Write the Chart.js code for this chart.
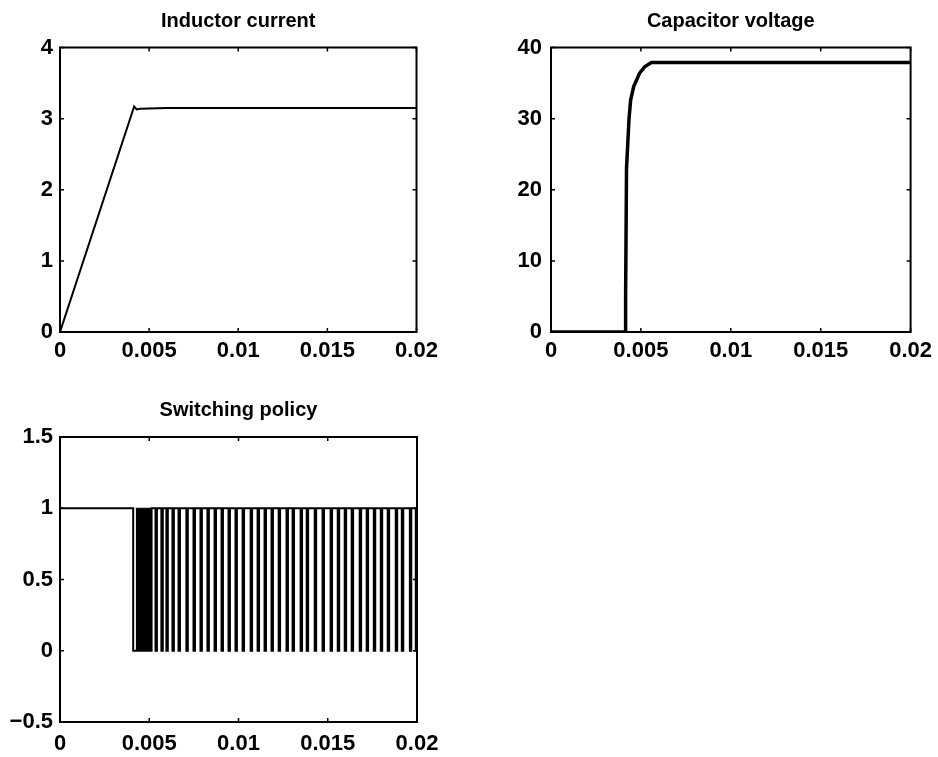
<!DOCTYPE html>
<html>
<head>
<meta charset="utf-8">
<script src="https://cdn.jsdelivr.net/npm/chart.js@4.4.0/dist/chart.umd.min.js"></script>
<style>
body { margin: 0; background: #fff; }
.panel { position: absolute; }
</style>
</head>
<body>
<div class="panel" style="left:0;top:0;width:470px;height:380px"><canvas id="current"></canvas></div>
<div class="panel" style="left:470px;top:0;width:468px;height:380px"><canvas id="voltage"></canvas></div>
<div class="panel" style="left:0;top:360px;width:470px;height:397px"><canvas id="policy"></canvas></div>
<script>
// shared time axis (seconds)
const timeTicks = [0, 0.005, 0.01, 0.015, 0.02];

// inductor current
const currentTime = [0, 0.00416, 0.0043, 0.0045, 0.006, 0.02];
const currentValue = [0, 3.17, 3.13, 3.14, 3.15, 3.15];
const currentTicks = [0, 1, 2, 3, 4];

// capacitor voltage
const voltageTime = [0, 0.00415, 0.00415, 0.0042, 0.00434, 0.00443, 0.0046, 0.00493, 0.00521, 0.00558, 0.007, 0.02];
const voltageValue = [0, 0, 5, 23, 30, 32.6, 34.5, 36.4, 37.3, 37.9, 37.9, 37.9];
const voltageTicks = [0, 10, 20, 30, 40];

// switching policy
const policyTicks = [-0.5, 0, 0.5, 1, 1.5];
const switchOffTime = 0.0041;
const chatterStart = 0.00424;
const chatterEnd = 0.00513;
const dipTimes = [
    0.00539, 0.00572, 0.00600, 0.00634, 0.00668, 0.00712, 0.00752, 0.00791,
    0.00830, 0.00870, 0.00909, 0.00948, 0.00987, 0.01027, 0.01072, 0.01111,
    0.01150, 0.01189, 0.01229, 0.01273, 0.01307, 0.01352, 0.01386, 0.01431,
    0.01475, 0.01520, 0.01560, 0.01599, 0.01638, 0.01683, 0.01722, 0.01762,
    0.01801, 0.01840, 0.01885, 0.01919, 0.01964, 0.01997
];
const dipWidth = 0.00008;

const FONT = '"Liberation Sans", Arial, Helvetica, sans-serif';

const framePlugin = {
    id: 'frame',
    afterDatasetsDraw(chart) {
        const ctx = chart.ctx;
        const a = chart.chartArea;
        const xs = chart.scales.x;
        const ys = chart.scales.y;
        ctx.save();
        ctx.strokeStyle = '#000';
        ctx.lineWidth = 2;
        ctx.strokeRect(a.left, a.top, a.right - a.left, a.bottom - a.top);
        ctx.lineWidth = 1.5;
        ctx.beginPath();
        xs.ticks.forEach(function (t) {
            const px = xs.getPixelForValue(t.value);
            ctx.moveTo(px, a.bottom); ctx.lineTo(px, a.bottom - 4);
            ctx.moveTo(px, a.top); ctx.lineTo(px, a.top + 4);
        });
        ys.ticks.forEach(function (t) {
            const py = ys.getPixelForValue(t.value);
            ctx.moveTo(a.left, py); ctx.lineTo(a.left + 4, py);
            ctx.moveTo(a.right, py); ctx.lineTo(a.right - 4, py);
        });
        ctx.stroke();
        ctx.restore();
    }
};

function toPoints(xs, ys) {
    return xs.map(function (x, i) { return { x: x, y: ys[i] }; });
}

function policyPoints() {
    const pts = [
        { x: 0, y: 1 }, { x: switchOffTime, y: 1 }, { x: switchOffTime, y: 0 },
        { x: chatterEnd, y: 0 }, { x: chatterEnd, y: 1 }
    ];
    dipTimes.forEach(function (d) {
        pts.push({ x: d - dipWidth / 2, y: 1 }, { x: d - dipWidth / 2, y: 0 },
                 { x: d + dipWidth / 2, y: 0 }, { x: d + dipWidth / 2, y: 1 });
    });
    pts.push({ x: 0.02, y: 1 });
    return pts;
}

function lineSet(data, width) {
    return {
        data: data,
        borderColor: '#000',
        borderWidth: width,
        pointRadius: 0,
        fill: false,
        tension: 0
    };
}

function tickText(v) {
    return v < 0 ? '\u2212' + String(-v) : String(v);
}

function makeOptions(title, yTicks, yWidth, yPad, padRight, xHeight, xPad, titleTop) {
    const tickFont = { family: FONT, size: 22, weight: 'bold' };
    return {
        animation: false,
        events: [],
        responsive: true,
        maintainAspectRatio: false,
        layout: { padding: { left: 0, right: padRight, top: 0, bottom: 0 } },
        plugins: {
            legend: { display: false },
            tooltip: { enabled: false },
            title: {
                display: true,
                text: title,
                color: '#000',
                fullSize: false,
                font: { family: FONT, size: 20, weight: 'bold' },
                padding: { top: titleTop, bottom: 14.5 }
            }
        },
        scales: {
            x: {
                type: 'linear',
                min: timeTicks[0],
                max: timeTicks[timeTicks.length - 1],
                grid: { display: false, drawTicks: false },
                border: { display: false },
                afterBuildTicks: function (s) { s.ticks = timeTicks.map(function (v) { return { value: v }; }); },
                afterFit: function (s) { s.height = xHeight; },
                ticks: {
                    color: '#000', font: tickFont, padding: xPad, maxRotation: 0, autoSkip: false,
                    callback: tickText
                }
            },
            y: {
                min: yTicks[0],
                max: yTicks[yTicks.length - 1],
                grid: { display: false, drawTicks: false },
                border: { display: false },
                afterBuildTicks: function (s) { s.ticks = yTicks.map(function (v) { return { value: v }; }); },
                afterFit: function (s) { s.width = yWidth; },
                ticks: {
                    color: '#000', font: tickFont, padding: yPad, autoSkip: false,
                    callback: tickText
                }
            }
        }
    };
}

new Chart(document.getElementById('current'), {
    type: 'line',
    data: { datasets: [lineSet(toPoints(currentTime, currentValue), 2)] },
    options: makeOptions('Inductor current', currentTicks, 60, 7, 53.5, 48, 6, 9),
    plugins: [framePlugin]
});

new Chart(document.getElementById('voltage'), {
    type: 'line',
    data: { datasets: [lineSet(toPoints(voltageTime, voltageValue), 3.5)] },
    options: makeOptions('Capacitor voltage', voltageTicks, 81, 9, 26, 48, 6, 9),
    plugins: [framePlugin]
});

const chatterBlock = {
    data: [{ x: chatterStart, y: 1 }, { x: chatterEnd, y: 1 }],
    borderColor: '#000',
    borderWidth: 1,
    backgroundColor: '#000',
    pointRadius: 0,
    fill: 'origin'
};

new Chart(document.getElementById('policy'), {
    type: 'line',
    data: { datasets: [lineSet(policyPoints(), 2), chatterBlock] },
    options: makeOptions('Switching policy', policyTicks, 60, 7, 53, 35, 9, 38.5),
    plugins: [framePlugin]
});
</script>
</body>
</html>
